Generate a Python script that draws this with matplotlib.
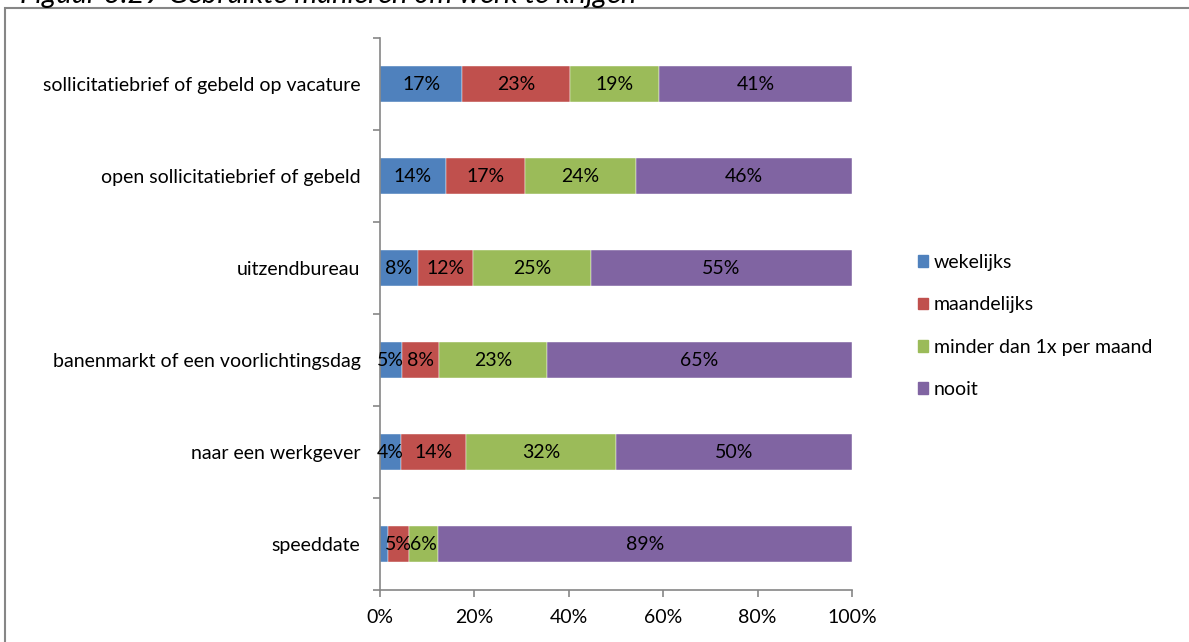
import matplotlib
matplotlib.use('Agg')
from matplotlib import pyplot as plt
from matplotlib.patches import Rectangle, Patch
import numpy as np

plt.rcParams['font.family'] = ['Lato', 'DejaVu Sans']

categories = ['sollicitatiebrief of gebeld op vacature',
              'open sollicitatiebrief of gebeld',
              'uitzendbureau',
              'banenmarkt of een voorlichtingsdag',
              'naar een werkgever',
              'speeddate']
series = ['wekelijks', 'maandelijks', 'minder dan 1x per maand', 'nooit']
wekelijks = [17.4, 14.0, 8.0, 4.6, 4.4, 1.7]
maandelijks = [22.9, 16.8, 11.7, 8.0, 13.8, 4.6]
minder = [18.9, 23.5, 25.0, 22.8, 31.8, 6.2]
nooit = [40.8, 46.0, 55.3, 64.6, 49.8, 89.0]
show_label = [[True] * 6, [True] * 6, [True] * 6, [True] * 6]
show_label[0][5] = False
colors = ['#4F81BD', '#C0504D', '#9BBB59', '#8064A2']
xticks = [0, 20, 40, 60, 80, 100]

fs = 14
fig = plt.figure(figsize=(11.89, 6.42), dpi=100)
ax = fig.add_axes([380 / 1189, 1 - 590 / 642, 472 / 1189, 552 / 642])

raw = np.array([wekelijks, maandelijks, minder, nooit])
widths = raw / raw.sum(axis=0) * 100
y = np.arange(len(categories))
left = np.zeros(len(categories))
for i, name in enumerate(series):
    ax.barh(y, widths[i], left=left, height=0.4, color=colors[i],
            edgecolor='white', linewidth=0.3, label=name)
    for j in range(len(categories)):
        if show_label[i][j]:
            ax.text(left[j] + widths[i][j] / 2, y[j], f"{raw[i][j]:.0f}%",
                    ha='center', va='center', fontsize=fs)
    left += widths[i]

ax.set_xlim(0, 100)
ax.set_ylim(len(categories) - 0.5, -0.5)
ax.set_xticks(xticks)
ax.set_xticklabels([f"{t}%" for t in xticks])
ax.set_yticks(y)
ax.set_yticklabels(categories)
ax.set_yticks(np.arange(-0.5, len(categories), 1), minor=True)
ax.tick_params(axis='y', which='major', length=0, pad=14, labelsize=fs)
ax.tick_params(axis='y', which='minor', length=5, color='#868686', width=1.2)
ax.tick_params(axis='x', length=5, color='#868686', width=1.2, pad=9, labelsize=fs)
for s in ['top', 'right']:
    ax.spines[s].set_visible(False)
for s in ['left', 'bottom']:
    ax.spines[s].set_color('#868686')
    ax.spines[s].set_linewidth(1.2)

handles = [Patch(color=c) for c in colors]
fig.legend(handles, series, loc='center left', bbox_to_anchor=(900 / 1189, 1 - 326 / 642),
           frameon=False, fontsize=fs, handlelength=0.55, handleheight=0.55,
           handletextpad=0.3, labelspacing=1.3)

# frame around the chart, cut off at right and bottom
fig.add_artist(Rectangle((5 / 1189, -0.1), 1.2, 1.1 - 8 / 642,
                         transform=fig.transFigure, fill=False,
                         edgecolor='#868686', linewidth=1.5))
fig.text(20 / 1189, 1 - 3 / 642, 'Figuur 3.29 Gebruikte manieren om werk te krijgen',
         ha='left', va='baseline', style='italic', fontsize=21)

fig.savefig('out.png', dpi=100)
plt.close(fig)
